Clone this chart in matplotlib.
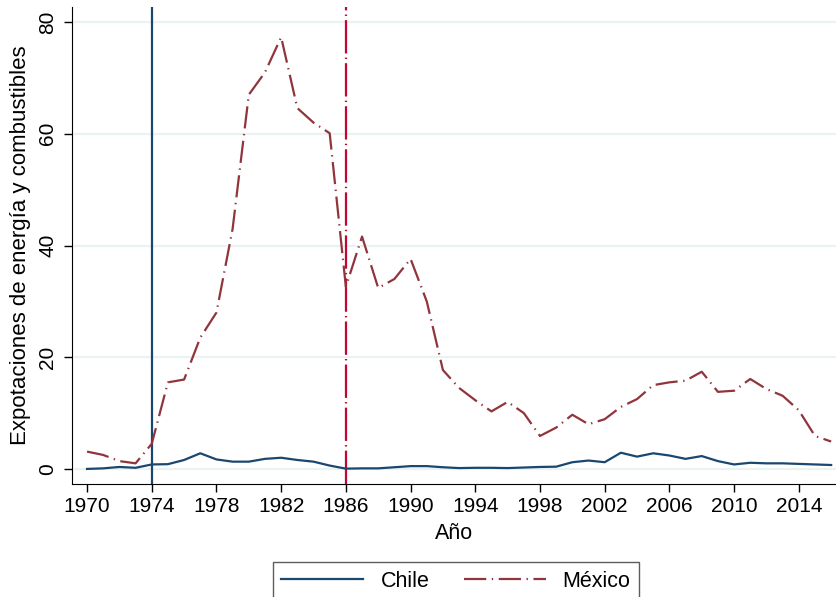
import matplotlib
matplotlib.use("Agg")
import matplotlib.pyplot as plt

plt.rcParams['font.family'] = ['Liberation Sans', 'DejaVu Sans']
plt.rcParams['lines.scale_dashes'] = False

# Datos
anios = list(range(1970, 2017))
chile = [0.0, 0.1, 0.35, 0.2, 0.8, 0.85, 1.6, 2.8, 1.7, 1.3,
         1.3, 1.8, 2.0, 1.6, 1.3, 0.6, 0.05, 0.1, 0.1, 0.3,
         0.5, 0.5, 0.3, 0.15, 0.2, 0.2, 0.15, 0.25, 0.35, 0.4,
         1.2, 1.5, 1.2, 2.9, 2.2, 2.8, 2.4, 1.8, 2.3, 1.4,
         0.8, 1.1, 1.0, 1.0, 0.9, 0.8, 0.7]
mexico = [3.1, 2.5, 1.4, 1.0, 4.5, 15.5, 16.0, 23.5, 28.0, 43.0,
          67.0, 71.0, 77.3, 64.6, 62.0, 60.1, 32.6, 41.6, 32.4, 34.0,
          37.6, 30.0, 17.7, 14.5, 12.3, 10.3, 12.0, 10.0, 5.9, 7.4,
          9.7, 8.0, 8.9, 11.1, 12.5, 15.0, 15.5, 15.8, 17.4, 13.8,
          14.0, 16.1, 14.3, 13.1, 10.5, 5.9, 4.9]
eventos = [1974, 1986]

azul = '#1a476f'
granate = '#90353b'

fig = plt.figure(figsize=(8.36, 5.97), dpi=100)
ax = fig.add_axes([72/836, 1 - 484/597, 764/836, 477/597])

for y in [0, 20, 40, 60, 80]:
    ax.axhline(y, color='#eaf2f3', lw=1.6, zorder=0)

ax.axvline(eventos[0], color=azul, lw=1.6, zorder=1)
ax.axvline(eventos[1], color='#c10534', lw=1.6, linestyle=(0, (24, 3, 1, 3)), zorder=1)

ax.plot(anios, chile, color=azul, lw=1.6, label='Chile', zorder=3)
ax.plot(anios, mexico, color=granate, lw=1.6, linestyle=(0, (16, 4, 1, 4)),
        label='México', zorder=3)

ax.set_xlim(1969.07, 2016.3)
ax.set_ylim(-2.7, 82.7)
ax.set_xticks(range(1970, 2015, 4))
ax.set_yticks([0, 20, 40, 60, 80])
ax.tick_params(axis='both', labelsize=15, length=5.5, width=1, direction='out')
ax.tick_params(axis='x', pad=4)
ax.tick_params(axis='y', pad=5)
plt.setp(ax.get_yticklabels(), rotation=90, va='center')
ax.spines['top'].set_visible(False)
ax.spines['right'].set_visible(False)

ax.set_xlabel('Año', fontsize=15.5, labelpad=5)
ax.set_ylabel('Expotaciones de energía y combustibles', fontsize=16, labelpad=5)

leg = fig.legend(loc='upper center', bbox_to_anchor=(456/836, 1 - 562/597), ncol=2,
                 fontsize=15.5, frameon=True, fancybox=False, handlelength=3.8,
                 columnspacing=1.6, borderpad=0.4, borderaxespad=0)
leg.get_frame().set_edgecolor('#333333')
leg.get_frame().set_linewidth(1.0)

fig.savefig('out.png', dpi=100)
